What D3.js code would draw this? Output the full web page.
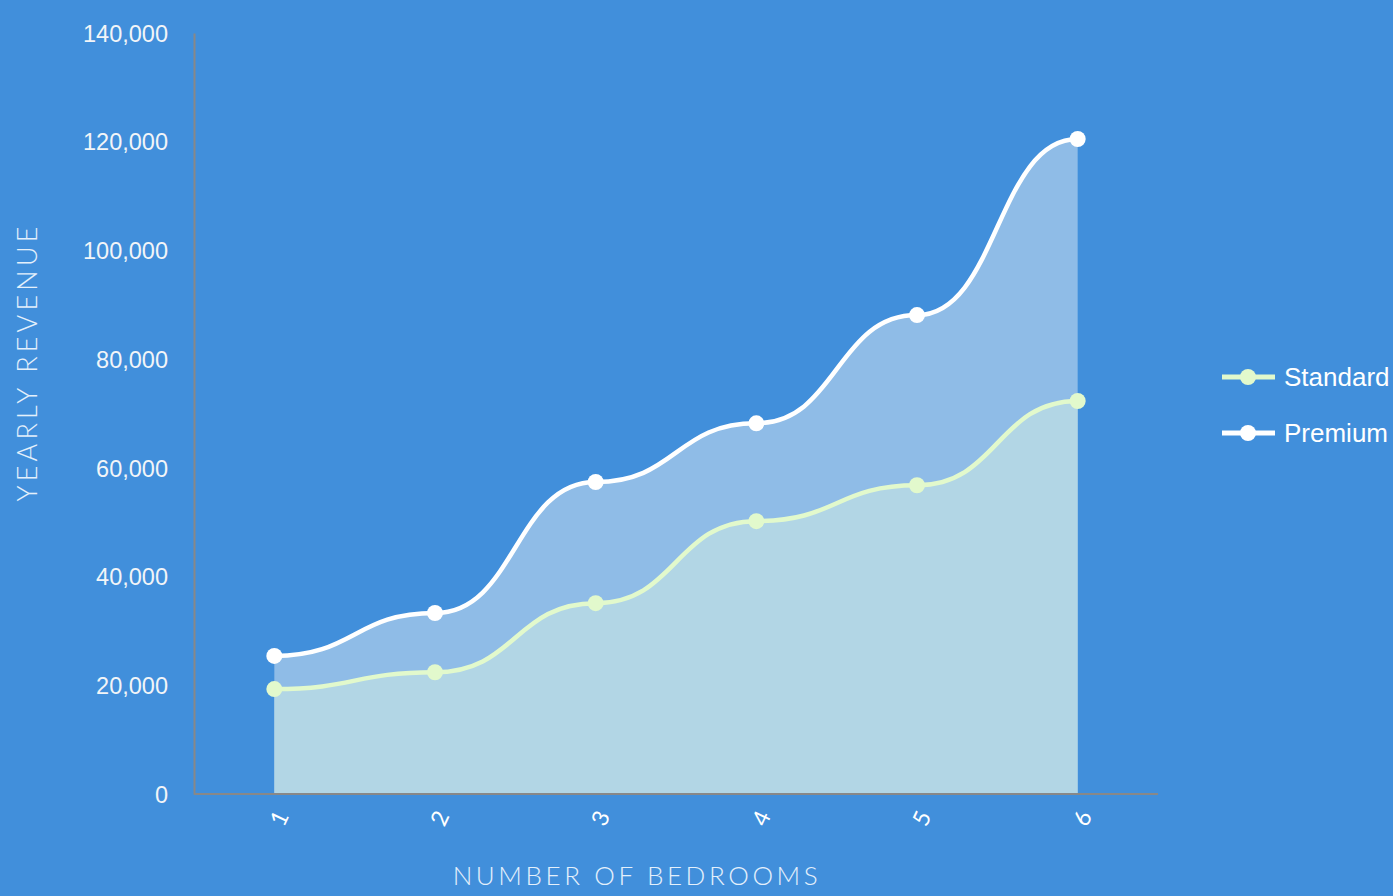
<!doctype html>
<html lang="en">
  <head>
    <meta charset="utf-8">
    <script src="https://cdn.jsdelivr.net/npm/d3@7"></script>
    <style>
      html, body { margin:0; padding:0; background:#418fdb; }
      svg { display:block; }
      .ytick { font-family: "Liberation Sans", Arial, sans-serif; font-size:23.5px; fill:#f2f5f8 }
      .xtick { font-family: Lato, "Open Sans", sans-serif; font-weight:400; font-size:23px; fill:#ffffff }
      .title { font-family: Lato, "Open Sans", sans-serif; font-weight:300; font-size:26px; fill:#e4f0fb; letter-spacing:3.6px }
      .legend { font-family: "Liberation Sans", Arial, sans-serif; font-size:26px; fill:#ffffff }
    </style>
  </head>
  <body>
    <script>
      // values
      const bedrooms = ["1", "2", "3", "4", "5", "6"];
      const standard = [19300, 22400, 35100, 50200, 56800, 72300];
      const premium = [25400, 33300, 57400, 68200, 88100, 120500];
      const yTicks = [0, 20000, 40000, 60000, 80000, 100000, 120000, 140000];
      const seriesNames = ["Standard", "Premium"];

      let w = 1393, h = 896;
      let margin = {top:33, left:194, right:235, bottom:102};

      let svg = d3.select("body").append("svg")
        .attr("width", w)
        .attr("height", h);

      let x = d3.scalePoint()
        .domain(bedrooms)
        .range([margin.left, w - margin.right])
        .padding(0.5);

      let y = d3.scaleLinear()
        .domain([0, 140000])
        .range([h - margin.bottom, margin.top]);

      let fmt = d3.format(",");

      let series = [
        {name:"Premium", values:premium, line:"#ffffff", fill:"#8fbce7"},
        {name:"Standard", values:standard, line:"#e2f9cc", fill:"#b2d6e5"}
      ];

      let area = d3.area()
        .x((d,i)=>x(bedrooms[i]))
        .y0(y(0))
        .y1(d=>y(d))
        .curve(d3.curveBumpX);

      let line = d3.line()
        .x((d,i)=>x(bedrooms[i]))
        .y(d=>y(d))
        .curve(d3.curveBumpX);

      // areas first, premium underneath
      series.forEach(s => {
        svg.append("path")
          .datum(s.values)
          .attr("d", area)
          .attr("fill", s.fill);
      });

      // axes
      let yAxis = d3.axisLeft(y).tickValues(yTicks).tickFormat(fmt).tickSize(0).tickPadding(26);
      let gy = svg.append("g")
        .attr("transform", "translate(" + margin.left + ",0)")
        .call(yAxis);
      gy.select(".domain").attr("stroke", "#888888").attr("stroke-width", 2);
      gy.selectAll("text").attr("class", "ytick").attr("dy", "0.35em");

      let gx = svg.append("g")
        .attr("transform", "translate(0," + (h - margin.bottom) + ")")
        .call(d3.axisBottom(x).tickSize(0).tickFormat(""));
      gx.select(".domain").attr("stroke", "#888888").attr("stroke-width", 2)
        .attr("d", "M" + margin.left + ",0H" + (w - margin.right));

      svg.append("g").selectAll("text")
        .data(bedrooms)
        .enter()
        .append("text")
        .attr("class", "xtick")
        .attr("text-anchor", "middle")
        .attr("dominant-baseline", "central")
        .attr("transform", d => "translate(" + (x(d) + 4) + "," + (h - margin.bottom + 24) + ") rotate(-65)")
        .text(d => d);

      // lines and points
      series.forEach(s => {
        svg.append("path")
          .datum(s.values)
          .attr("d", line)
          .attr("fill", "none")
          .attr("stroke", s.line)
          .attr("stroke-width", 4.5);
        svg.append("g").selectAll("circle")
          .data(s.values)
          .enter()
          .append("circle")
          .attr("cx", (d,i)=>x(bedrooms[i]))
          .attr("cy", d=>y(d))
          .attr("r", 8)
          .attr("fill", s.line);
      });

      // axis titles
      svg.append("text")
        .attr("class", "title")
        .attr("x", 637)
        .attr("y", 885)
        .attr("text-anchor", "middle")
        .text("NUMBER OF BEDROOMS");

      svg.append("text")
        .attr("class", "title")
        .attr("transform", "translate(37,362) rotate(-90)")
        .attr("text-anchor", "middle")
        .style("font-size", "27px")
        .style("letter-spacing", "4.2px")
        .text("YEARLY REVENUE");

      // legend
      let legendColors = {"Standard":"#e2f9cc", "Premium":"#ffffff"};
      let lg = svg.append("g").selectAll("g")
        .data(seriesNames)
        .enter()
        .append("g")
        .attr("transform", (d,i) => "translate(1222," + (377 + i*56) + ")");
      lg.append("line")
        .attr("x1", 0).attr("x2", 53)
        .attr("stroke", d => legendColors[d])
        .attr("stroke-width", 5);
      lg.append("circle")
        .attr("cx", 26).attr("r", 8)
        .attr("fill", d => legendColors[d]);
      lg.append("text")
        .attr("class", "legend")
        .attr("x", 62)
        .attr("dy", "0.35em")
        .text(d => d);
    </script>
  </body>
</html>
